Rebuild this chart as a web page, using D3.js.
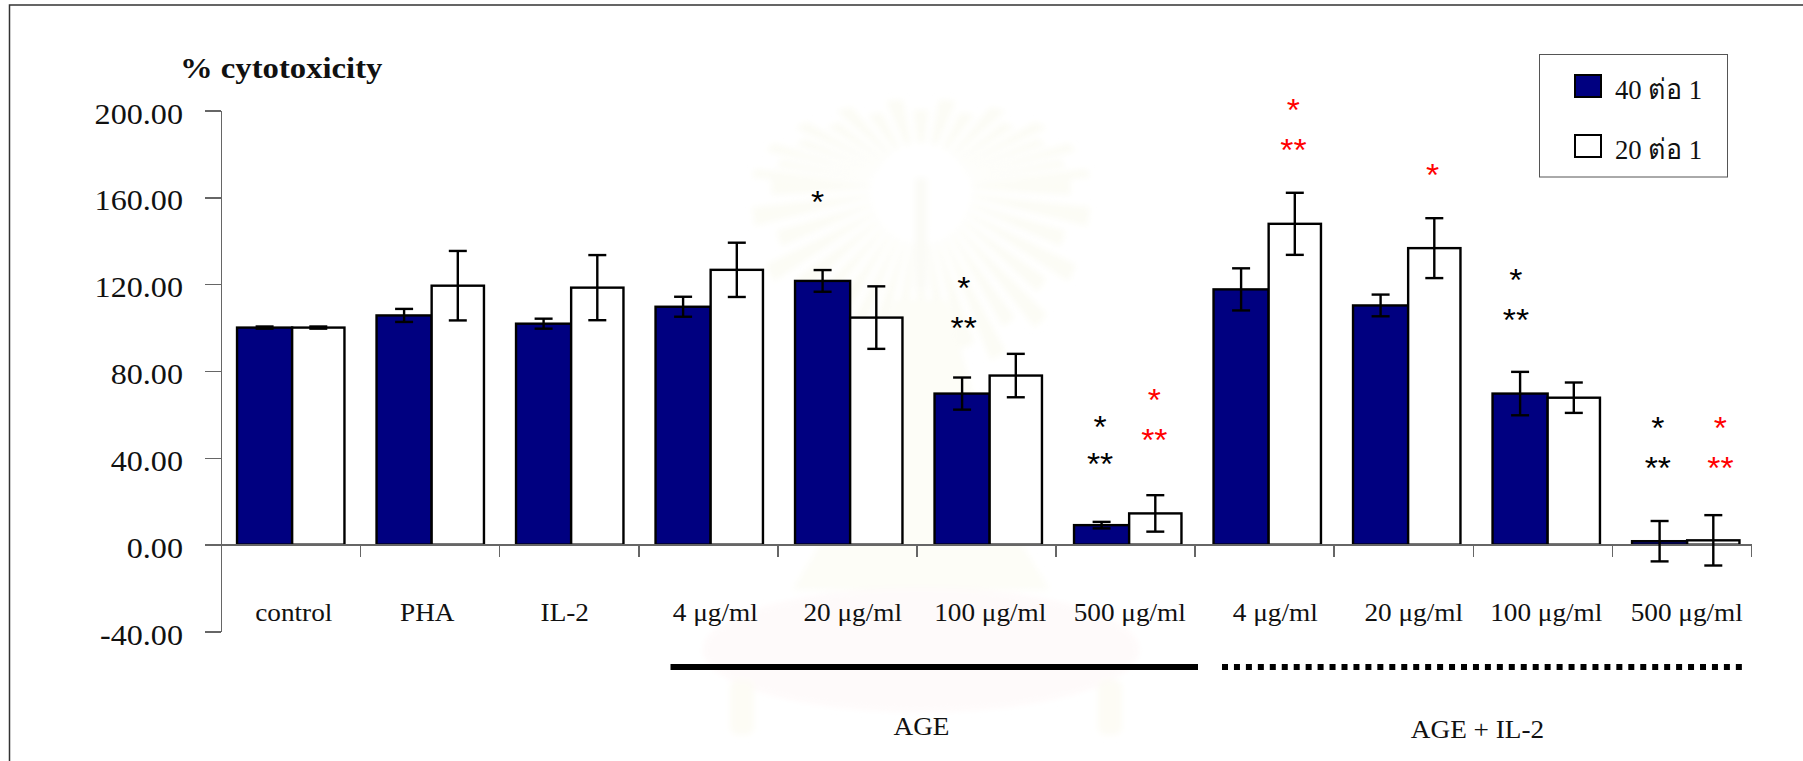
<!DOCTYPE html>
<html>
<head>
<meta charset="utf-8">
<script src="https://d3js.org/d3.v7.min.js"></script>
<style>
    html, body { margin: 0; padding: 0; background: #fff; }
    text { font-family: "Liberation Serif", serif; fill: #111; }
    .axis path, .axis line { stroke: #666; stroke-width: 1.5; shape-rendering: crispEdges; }
</style>
</head>
<body>
<svg id="chart"></svg>
<script>
var categories = ['control', 'PHA', 'IL-2', '4 μg/ml', '20 μg/ml', '100 μg/ml', '500 μg/ml',
        '4 μg/ml ', '20 μg/ml ', '100 μg/ml ', '500 μg/ml '],
    seriesNames = ['40 ต่อ 1', '20 ต่อ 1'],
    yTicks = [200, 160, 120, 80, 40, 0, -40];

var values40 = [100, 105.6, 101.8, 109.6, 121.5, 69.6, 9, 117.6, 110.2, 69.6, 1.6],
    errors40 = [0.5, 3, 2.3, 4.6, 5, 7.4, 1.5, 9.7, 5, 10, 9.3],
    values20 = [100, 119.3, 118.4, 126.6, 104.6, 77.9, 14.4, 147.8, 136.6, 67.7, 2],
    errors20 = [0.5, 16, 15, 12.5, 14.4, 10, 8.4, 14.3, 13.8, 7, 11.6];

// significance marks: position in category units, level in % units
var starText = ['*', '*', '**', '*', '**', '*', '**', '*', '**', '*', '*', '**', '*', '**', '*', '**'],
    starCat = [4.29, 5.34, 5.34, 6.32, 6.32, 6.71, 6.71, 7.71, 7.71, 8.71, 9.31, 9.31, 10.33, 10.33, 10.78, 10.78],
    starLevel = [161, 121.3, 102.8, 57.3, 40.2, 69.7, 51.2, 203.3, 184.9, 173.5, 125, 106.5, 56.8, 38.3, 56.8, 38.3],
    starRed = [0, 0, 0, 0, 0, 1, 1, 1, 1, 1, 0, 0, 0, 0, 1, 1];

var width = 1803,
    height = 761,
    left = 221,
    right = 1751,
    top_ = 110.5,
    bottom = 631.5,
    stretch = 1.09,   // the source picture is wider than tall, text gets stretched too
    navy = '#000080';

var labelNudge = [3, -3, -5, 6, 4, 2, 2, 8, 7, 0, 1],
    seriesShare = [0.513, 0.487];   // the navy bars come out a little wider in the source

var svg = d3.select('#chart')
    .attr('width', width)
    .attr('height', height)
    .style('display', 'block');

// bars drift slightly right of the tick marks in the source
var x = d3.scaleBand()
    .domain(categories)
    .range([left, right + 4.5])
    .paddingInner(0.23)
    .paddingOuter(0.115);

var xPos = d3.scaleLinear().domain([0, categories.length]).range([left, right]);

var y = d3.scaleLinear().domain([-40, 200]).range([bottom, top_]);


function stretched(sel, px, py) {
    return sel.attr('transform', 'translate(' + px + ',' + py + ') scale(' + stretch + ',1)');
}


// faint emblem behind the chart
function drawWatermark() {
    var defs = svg.append('defs');
    defs.append('filter')
        .attr('id', 'soft')
        .attr('x', '-20%').attr('y', '-20%').attr('width', '140%').attr('height', '140%')
        .append('feGaussianBlur')
        .attr('stdDeviation', 3);

    var g = svg.append('g').attr('class', 'watermark').attr('filter', 'url(#soft)');
    var cx = 921, cy = 187;

    g.selectAll('path.ray')
        .data(d3.range(0, 40))
        .enter()
        .append('path')
        .attr('class', 'ray')
        .attr('fill', '#fcfcf5')
        .attr('d', function(d) {
            var a = (d / 40) * 2 * Math.PI,
                ry = Math.sin(a) < 0 ? 88 : 190,
                rx = 170,
                k = d % 2 ? 1 : 0.88,
                w = 0.05,
                px = function(r, t) { return cx + r * rx * Math.cos(t); },
                py = function(r, t) { return cy + r * ry * Math.sin(t); },
                r0 = 0.3;
            return 'M' + px(r0, a - w / 2) + ',' + py(r0, a - w / 2) +
                'L' + px(k, a - w) + ',' + py(k, a - w) +
                'L' + px(k, a + w) + ',' + py(k, a + w) +
                'L' + px(r0, a + w / 2) + ',' + py(r0, a + w / 2) + 'Z';
        });

    g.append('ellipse').attr('cx', cx).attr('cy', cy).attr('rx', 46).attr('ry', 44).attr('fill', '#fff');
    g.append('rect').attr('x', cx - 6).attr('y', 178).attr('width', 12).attr('height', 110).attr('fill', '#fbfbf6');
    g.append('path')
        .attr('fill', '#fdfdf7')
        .attr('d', 'M895,300L947,300L975,400L995,500L1050,590L792,590L847,500L867,400Z');
    g.append('ellipse').attr('cx', cx).attr('cy', 650).attr('rx', 218).attr('ry', 62).attr('fill', '#fefafa');
    g.append('rect').attr('x', 730).attr('y', 680).attr('width', 24).attr('height', 55).attr('rx', 8).attr('fill', '#fdfcf5');
    g.append('rect').attr('x', 1098).attr('y', 680).attr('width', 24).attr('height', 55).attr('rx', 8).attr('fill', '#fdfcf5');
}


function drawFrame() {
    svg.append('path')
        .attr('d', 'M9.5,' + height + 'V5H' + width)
        .attr('fill', 'none')
        .attr('stroke', '#333')
        .attr('stroke-width', 1.5);
}


function drawBars(values, errors, i, fill) {
    var g = svg.append('g').attr('class', 'series-' + i),
        barW = x.bandwidth() * seriesShare[i],
        barX = function(d, k) { return x(categories[k]) + (i ? x.bandwidth() * seriesShare[0] : 0); },
        mid = function(d, k) { return barX(d, k) + barW / 2; };

    g.selectAll('rect')
        .data(values)
        .enter()
        .append('rect')
        .attr('x', barX)
        .attr('y', function(d) { return y(d); })
        .attr('width', barW)
        .attr('height', function(d) { return y(0) - y(d); })
        .attr('fill', fill)
        .attr('stroke', '#000')
        .attr('stroke-width', 2.4);

    return function drawErrors() {
        var e = svg.append('g')
            .attr('class', 'errors-' + i)
            .attr('stroke', '#000')
            .attr('stroke-width', 2.4);

        e.selectAll('line.stem')
            .data(values)
            .enter()
            .append('line')
            .attr('class', 'stem')
            .attr('x1', mid)
            .attr('x2', mid)
            .attr('y1', function(d, k) { return y(d + errors[k]); })
            .attr('y2', function(d, k) { return y(d - errors[k]); });

        [1, -1].forEach(function(sign) {
            e.selectAll('line.cap' + sign)
                .data(values)
                .enter()
                .append('line')
                .attr('class', 'cap' + sign)
                .attr('x1', function(d, k) { return mid(d, k) - 9; })
                .attr('x2', function(d, k) { return mid(d, k) + 9; })
                .attr('y1', function(d, k) { return y(d + sign * errors[k]); })
                .attr('y2', function(d, k) { return y(d + sign * errors[k]); });
        });
    };
}


function drawAxes() {
    var yAxis = svg.append('g')
        .attr('class', 'axis')
        .attr('transform', 'translate(' + left + ',0)')
        .call(d3.axisLeft(y)
            .tickValues(yTicks)
            .tickSize(16)
            .tickSizeOuter(0)
            .tickFormat(function(d) { return d.toFixed(2); }));

    yAxis.selectAll('text')
        .attr('x', 0)
        .attr('dy', 0)
        .attr('text-anchor', 'end')
        .style('font-size', '29.5px')
        .attr('transform', 'translate(-38,12.5) scale(' + stretch + ',1)');

    svg.append('g')
        .attr('class', 'axis')
        .attr('transform', 'translate(0,' + y(0) + ')')
        .call(d3.axisBottom(xPos)
            .tickValues(d3.range(categories.length + 1))
            .tickSize(12)
            .tickSizeOuter(0)
            .tickFormat(''));
}


function drawLabels() {
    svg.selectAll('text.cat')
        .data(categories)
        .enter()
        .append('text')
        .attr('class', 'cat')
        .attr('text-anchor', 'middle')
        .style('font-size', '25px')
        .text(function(d) { return d.trim(); })
        .each(function(d, k) {
            stretched(d3.select(this), x(d) + x.bandwidth() / 2 + labelNudge[k], 620.5);
        });

    stretched(svg.append('text'), 180, 78)
        .style('font-size', '30px')
        .style('font-weight', 'bold')
        .text('% cytotoxicity');

    stretched(svg.append('text'), 921.5, 735)
        .attr('text-anchor', 'middle')
        .style('font-size', '25px')
        .text('AGE');

    stretched(svg.append('text'), 1477.5, 737.5)
        .attr('text-anchor', 'middle')
        .style('font-size', '25px')
        .text('AGE + IL-2');

    svg.append('line')
        .attr('x1', 670.5).attr('x2', 1198)
        .attr('y1', 667).attr('y2', 667)
        .attr('stroke', '#000')
        .attr('stroke-width', 6);

    svg.append('line')
        .attr('x1', 1222).attr('x2', 1745)
        .attr('y1', 667).attr('y2', 667)
        .attr('stroke', '#000')
        .attr('stroke-width', 6)
        .attr('stroke-dasharray', '6 5.95');
}


function drawStars() {
    svg.selectAll('text.star')
        .data(starText)
        .enter()
        .append('text')
        .attr('class', 'star')
        .attr('text-anchor', 'middle')
        .style('font-family', '"Liberation Sans", sans-serif')
        .style('font-size', '31px')
        .style('fill', function(d, k) { return starRed[k] ? '#ff0000' : '#000'; })
        .text(function(d) { return d; })
        .each(function(d, k) {
            stretched(d3.select(this), xPos(starCat[k]), y(starLevel[k]) + 17.5);
        });
}


function drawLegend() {
    var legendY = d3.scalePoint().domain(seriesNames).range([86, 146]);

    svg.append('rect')
        .attr('x', 1539.5)
        .attr('y', 54.5)
        .attr('width', 188)
        .attr('height', 122.5)
        .attr('fill', '#fff')
        .attr('stroke', '#555')
        .attr('stroke-width', 1);

    var item = svg.selectAll('g.legend-item')
        .data(seriesNames)
        .enter()
        .append('g')
        .attr('class', 'legend-item');

    item.append('rect')
        .attr('x', 1575)
        .attr('y', function(d) { return legendY(d) - 11; })
        .attr('width', 26)
        .attr('height', 22)
        .attr('fill', function(d, k) { return k ? '#fff' : navy; })
        .attr('stroke', '#000')
        .attr('stroke-width', 2);

    item.append('text')
        .style('font-size', '28px')
        .attr('textLength', 80)
        .attr('lengthAdjust', 'spacingAndGlyphs')
        .text(function(d) { return d; })
        .each(function(d) {
            stretched(d3.select(this), 1615, legendY(d) + 13);
        });
}


drawWatermark();
drawFrame();
var errors40Draw = drawBars(values40, errors40, 0, navy),
    errors20Draw = drawBars(values20, errors20, 1, '#fff');
drawAxes();
errors40Draw();
errors20Draw();
drawLabels();
drawStars();
drawLegend();
</script>
</body>
</html>
